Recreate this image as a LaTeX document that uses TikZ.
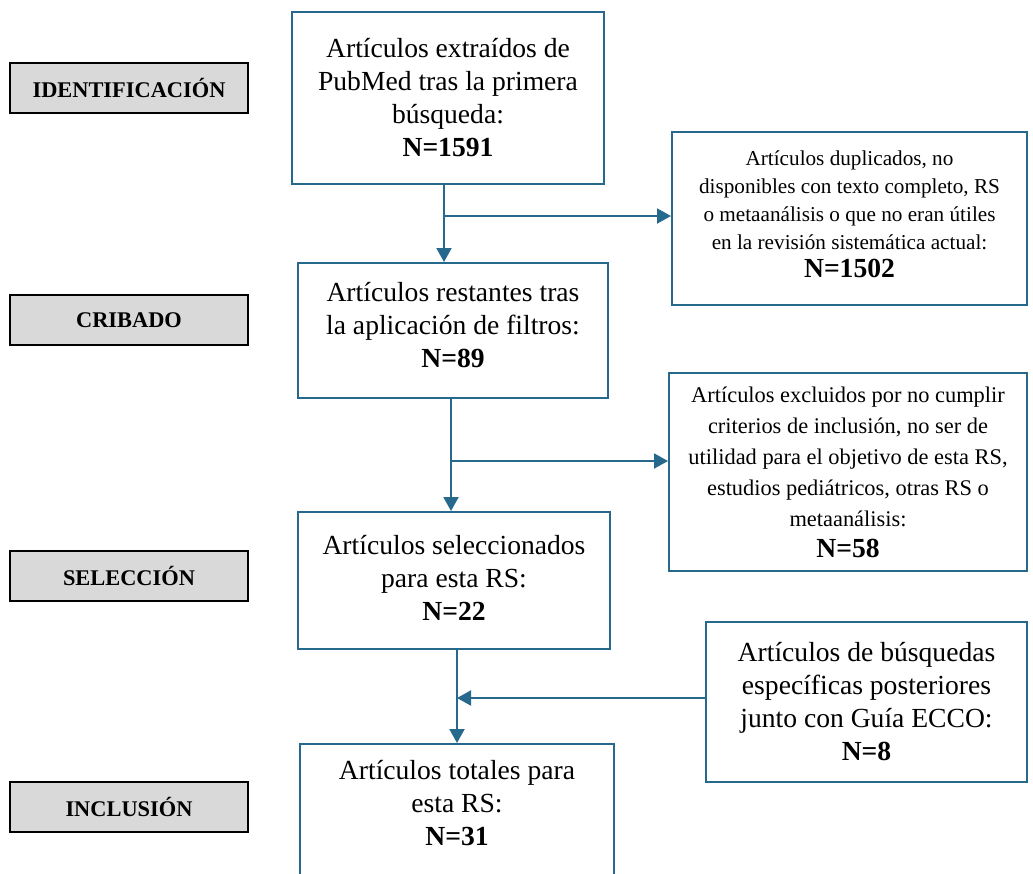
\documentclass[tikz,border=0pt]{standalone}
\usepackage{fontspec}
\setmainfont{Liberation Serif}
\usepackage{xcolor}
\usetikzlibrary{arrows.meta}
\definecolor{azul}{RGB}{38,105,140}
\definecolor{gris}{RGB}{217,217,217}

\begin{document}
\begin{tikzpicture}[x=0.5pt,y=-0.5pt,
  caja/.style={draw=azul, line width=1pt, align=center, inner sep=0pt, font=\fontsize{13.8}{16.5}\selectfont},
  cajita/.style={caja, font=\fontsize{10.6}{14}\selectfont},
  fase/.style={draw=black, line width=1.1pt, fill=gris, minimum width=119pt, minimum height=25pt, font=\fontsize{11.2}{13}\selectfont\bfseries},
  flecha/.style={draw=azul, line width=1pt, -{Triangle[length=7pt,width=7.5pt]}}]
\useasboundingbox (0,0) rectangle (1033,873);
\clip (0,0) rectangle (1033,873);
% fases
\node[fase] (ident) at (129,88) {IDENTIFICACIÓN};
\node[fase] (crib) at (129,320) {CRIBADO};
\node[fase] (selec) at (129,576) {SELECCIÓN};
\node[fase] (incl) at (129,807) {INCLUSIÓN};
% cajas centrales
\node[caja, minimum width=156pt, minimum height=86pt] (pubmed) at (448,98)
  {Artículos extraídos de\\PubMed tras la primera\\búsqueda:\\\textbf{N=1591}};
\node[caja, minimum width=155pt, minimum height=67.5pt] (filtros) at (453,330.5)
  {Artículos restantes tras\\la aplicación de filtros:\\\textbf{N=89}\rule[-6pt]{0pt}{6pt}};
\node[caja, minimum width=156pt, minimum height=68.5pt] (selrs) at (454,580.5)
  {Artículos seleccionados\\para esta RS:\\\textbf{N=22}\rule[-3pt]{0pt}{3pt}};
\node[caja, minimum width=157pt, minimum height=68pt] (total) at (457,812)
  {Artículos totales para\\esta RS:\\\textbf{N=31}\rule[-9pt]{0pt}{9pt}};
% cajas laterales
\node[cajita, minimum width=177.5pt, minimum height=86.5pt] (dupl) at (849.5,218.5)
  {Artículos duplicados, no\\disponibles con texto completo, RS\\o metaanálisis o que no eran útiles\\en la revisión sistemática actual:\\{\fontsize{13.8}{14}\selectfont\textbf{N=1502}}\rule[-4pt]{0pt}{4pt}};
\node[cajita, font=\fontsize{11.2}{15.5}\selectfont, minimum width=179pt, minimum height=99pt] (excl) at (848,472)
  {Artículos excluidos por no cumplir\\criterios de inclusión, no ser de\\utilidad para el objetivo de esta RS,\\estudios pediátricos, otras RS o\\metaanálisis:\\{\fontsize{13.8}{15.5}\selectfont\textbf{N=58}}};
\node[caja, minimum width=160.5pt, minimum height=80pt] (ecco) at (866.5,702)
  {Artículos de búsquedas\\específicas posteriores\\junto con Guía ECCO:\\\textbf{N=8}};
% conectores
\coordinate (c1) at (444,216);
\coordinate (c2) at (451,461);
\coordinate (c3) at (457,698);
\draw[flecha] (c1 |- pubmed.south) -- (c1 |- filtros.north);
\draw[flecha] (c1) -- (c1 -| dupl.west);
\draw[flecha] (c2 |- filtros.south) -- (c2 |- selrs.north);
\draw[flecha] (c2) -- (c2 -| excl.west);
\draw[flecha] (c3 |- selrs.south) -- (c3 |- total.north);
\draw[flecha] (c3 -| ecco.west) -- (c3);
\end{tikzpicture}
\end{document}
